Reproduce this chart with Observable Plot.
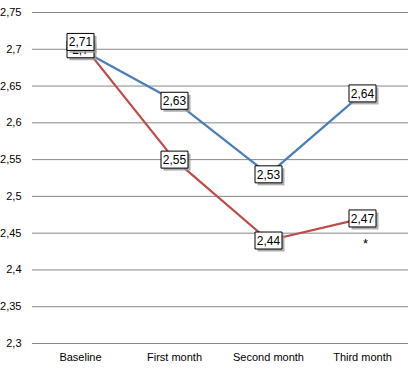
<!DOCTYPE html>
<html>
<head>
<meta charset="utf-8">
<script src="https://cdn.jsdelivr.net/npm/d3@7"></script>
<script src="https://cdn.jsdelivr.net/npm/@observablehq/plot@0.6"></script>
<style>
  html, body { margin: 0; padding: 0; background: #fff; }
</style>
</head>
<body>
<div id="chart"></div>
<script>
const categories = ["Baseline", "First month", "Second month", "Third month"];
const blueValues = [2.70, 2.63, 2.53, 2.64];
const redValues = [2.71, 2.55, 2.44, 2.47];
const yTicks = [2.3, 2.35, 2.4, 2.45, 2.5, 2.55, 2.6, 2.65, 2.7, 2.75];
const annotation = [{cat: "Third month", value: 2.436, text: "*"}];

const blue = categories.map((c, i) => ({cat: c, value: blueValues[i]}));
const red = categories.map((c, i) => ({cat: c, value: redValues[i]}));

const fmt = v => String(+v.toFixed(2)).replace(".", ",");
const boxSymbol = {draw(ctx) { ctx.rect(-13.5, -8.5, 27, 17); }};

function labelMarks(data) {
  return [
    Plot.dot(data, {x: "cat", y: "value", symbol: boxSymbol, fill: "#9a9a9a", stroke: "none", dx: 2.5, dy: 2.5, fillOpacity: 0.8}),
    Plot.dot(data, {x: "cat", y: "value", symbol: boxSymbol, fill: "#fff", stroke: "#000", strokeWidth: 1}),
    Plot.text(data, {x: "cat", y: "value", text: d => fmt(d.value), fill: "#000", fontSize: 12, dy: 0.5})
  ];
}

const chart = Plot.plot({
  width: 408,
  height: 373,
  marginLeft: 32,
  marginRight: 0,
  marginTop: 12,
  marginBottom: 30,
  style: {fontFamily: "'Liberation Sans', Arial, sans-serif", fontSize: "11px", background: "#fff", overflow: "visible"},
  x: {type: "point", domain: categories, range: [79, 363], padding: 0, label: null},
  y: {domain: [2.3, 2.75], label: null},
  marks: [
    Plot.ruleY(yTicks, {stroke: "#868686", strokeWidth: 1, strokeOpacity: 1}),
    Plot.axisY({ticks: yTicks, tickFormat: fmt, tickSize: 0, tickPadding: 11, fontSize: 11, fill: "#000"}),
    Plot.axisX({tickSize: 0, tickPadding: 10, fontSize: 11, fill: "#000"}),
    Plot.line(blue, {x: "cat", y: "value", stroke: "#4a7ebb", strokeWidth: 2.25}),
    Plot.line(red, {x: "cat", y: "value", stroke: "#be4b48", strokeWidth: 2.25}),
    ...labelMarks(blue),
    ...labelMarks(red),
    Plot.text(annotation, {x: "cat", y: "value", text: "text", fontSize: 13, dx: 3, fill: "#000"})
  ]
});
document.getElementById("chart").appendChild(chart);
</script>
</body>
</html>
